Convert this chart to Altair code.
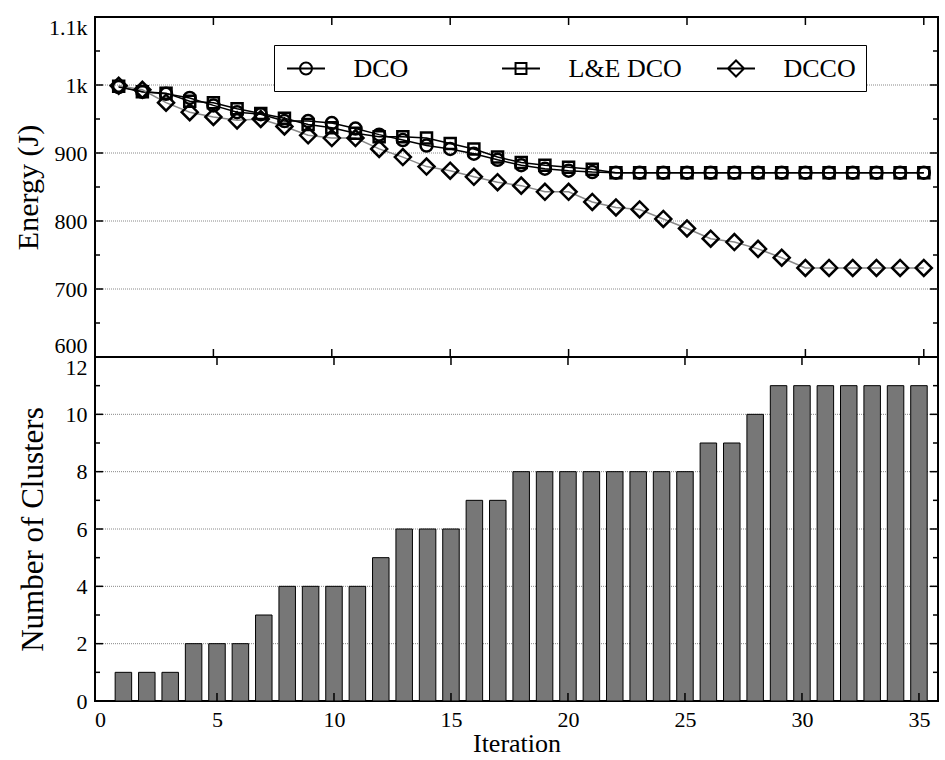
import altair as alt
import pandas as pd

# ---------------- data ----------------
iterations = list(range(1, 36))
series_names = ["DCO", "L&E DCO", "DCCO"]

dco = [997, 990, 987, 981, 970, 960, 957, 947, 947, 944, 936, 927, 919, 911, 906,
       899, 890, 882, 877, 874, 872, 871, 871, 871, 871, 871, 871, 871, 871, 871,
       871, 871, 871, 871, 871]
le_dco = [998, 990, 988, 976, 974, 965, 958, 951, 942, 937, 929, 924, 924, 922, 914,
          906, 894, 886, 882, 879, 876, 871, 871, 871, 871, 871, 871, 871, 871, 871,
          871, 871, 871, 871, 871]
dcco = [999, 993, 974, 960, 953, 948, 950, 939, 926, 922, 922, 906, 894, 880, 874,
        865, 857, 852, 843, 843, 828, 820, 817, 803, 789, 774, 769, 759, 746, 731,
        731, 731, 731, 731, 731]

clusters = [1, 1, 1, 2, 2, 2, 3, 4, 4, 4, 4, 5, 6, 6, 6, 7, 7, 8, 8, 8, 8, 8, 8, 8,
            8, 9, 9, 10, 11, 11, 11, 11, 11, 11, 11]

x_ticks = [0, 5, 10, 15, 20, 25, 30, 35]
x_inner_ticks = [5, 10, 15, 20, 25, 30, 35]
energy_major = [600, 700, 800, 900, 1000, 1100]
energy_grid = [700, 800, 900, 1000]
energy_minor = [650, 750, 850, 950, 1050]
cluster_major = [0, 2, 4, 6, 8, 10, 12]
cluster_grid = [2, 4, 6, 8, 10]
cluster_minor = [1, 3, 5, 7, 9, 11]

# ---------------- tables ----------------
energy_df = pd.DataFrame({
    "iteration": iterations * 3,
    "series": ["DCO"] * 35 + ["L&E DCO"] * 35 + ["DCCO"] * 35,
    "energy": dco + le_dco + dcco,
})
cluster_df = pd.DataFrame({"iteration": iterations, "clusters": clusters})

FONT = "Liberation Serif"
W, H1, H2 = 843, 340, 344

xs = alt.Scale(domain=[0, 35.6], nice=False, zero=False)
ys1 = alt.Scale(domain=[600, 1100], nice=False, zero=False)
ys2 = alt.Scale(domain=[0, 12], nice=False)

energy_axis = alt.Axis(
    values=energy_major, title="Energy (J)", grid=False,
    labelExpr="datum.value >= 1000 ? (datum.value / 1000) + 'k' : '' + datum.value",
    labelFlush=True, titleX=-67, titleBaseline="middle", titleFontSize=30,
)
cluster_axis = alt.Axis(
    values=cluster_major, title="Number of Clusters", grid=False, labelFlush=False,
    labelBaseline={"condition": {"test": "datum.value == 12", "value": "top"}, "value": "middle"},
    titleX=-62, titleBaseline="middle", titleFontSize=31,
)
iter_axis = alt.Axis(values=x_ticks, title="Iteration", grid=False, labelFlush=False,
                     titlePadding=0, titleFontSize=26)

# legend symbols (line through marker)
path_c = "M-1.46,0L1.46,0M-0.46,0A0.46,0.46,0,1,1,0.46,0A0.46,0.46,0,1,1,-0.46,0Z"
path_s = "M-1.46,0L1.46,0M-0.42,-0.42L0.42,-0.42L0.42,0.42L-0.42,0.42Z"
path_d = "M-1.46,0L1.46,0M-0.62,0L0,-0.62L0.62,0L0,0.62Z"

NBSP = "\u00a0" * 8


def vals(v):
    return pd.DataFrame({"v": v})


def xrules(values, y0, y1, xaxis):
    return alt.Chart(vals(values)).mark_rule(color="black", strokeWidth=1.5).encode(
        x=alt.X("v:Q", scale=xs, axis=xaxis), y=alt.value(y0), y2=alt.value(y1))


def yrules(values, scale, yaxis, x0, x1):
    return alt.Chart(vals(values)).mark_rule(color="black", strokeWidth=1.5).encode(
        y=alt.Y("v:Q", scale=scale, axis=yaxis), x=alt.value(x0), x2=alt.value(x1))


def gridrules(values, scale, yaxis):
    return alt.Chart(vals(values)).mark_rule(color="#888888", strokeWidth=1, strokeDash=[1, 1]).encode(
        y=alt.Y("v:Q", scale=scale, axis=yaxis))


# ---------------- top panel ----------------
X1 = alt.X("iteration:Q", scale=xs, axis=None)
Y1 = alt.Y("energy:Q", scale=ys1, axis=energy_axis)

lines = alt.Chart(energy_df).mark_line().encode(
    x=X1, y=Y1,
    color=alt.Color("series:N", scale=alt.Scale(domain=series_names, range=["black", "black", "#888888"]), legend=None),
    strokeWidth=alt.StrokeWidth("series:N", scale=alt.Scale(domain=series_names, range=[1.5, 1.5, 1.3]), legend=None),
)

marker_shapes = {"DCO": ("circle", 144), "L&E DCO": ("square", 121), "DCCO": ("diamond", 256)}
point_layers = []
for name in series_names:
    shp, sz = marker_shapes[name]
    point_layers.append(
        alt.Chart(energy_df).transform_filter(alt.datum.series == name).mark_point(
            shape=shp, size=sz, filled=False, stroke="black", strokeWidth=2.5, opacity=1
        ).encode(x=X1, y=Y1)
    )

legend_layer = alt.Chart(energy_df).transform_filter("false").mark_point(filled=False).encode(
    x=X1, y=Y1,
    shape=alt.Shape(
        "series:N",
        sort=series_names,
        scale=alt.Scale(domain=series_names, range=[path_c, path_s, path_d]),
        legend=alt.Legend(
            title=None, orient="none", legendX=179, legendY=28,
            direction="horizontal", columns=3, gridAlign="all",
            padding=9.5, strokeColor="black", fillColor="white", cornerRadius=0,
            symbolSize=676, symbolStrokeWidth=2, symbolStrokeColor="black",
            symbolFillColor="transparent", symbolOpacity=1, symbolOffset=8.5,
            labelOffset=33.5, columnPadding=30, labelFont=FONT, labelFontSize=26,
            labelColor="black", labelLimit=400,
            labelExpr="datum.label == 'DCCO' ? 'DCCO" + NBSP + "' : datum.label",
        ),
    ),
)

top = alt.layer(
    gridrules(energy_grid, ys1, energy_axis),
    lines, *point_layers, legend_layer,
    xrules(x_inner_ticks, 0, 8, None), xrules(x_inner_ticks, H1 - 8, H1, None),
    yrules(energy_major, ys1, energy_axis, 0, 8), yrules(energy_minor, ys1, energy_axis, 0, 5),
    yrules(energy_major, ys1, energy_axis, W - 8, W), yrules(energy_minor, ys1, energy_axis, W - 5, W),
).resolve_scale(shape="independent").resolve_legend(shape="independent").properties(width=W, height=H1)

# ---------------- bottom panel ----------------
bars = alt.Chart(cluster_df).mark_bar(size=16.5, color="#777777", stroke="black", strokeWidth=1).encode(
    x=alt.X("iteration:Q", scale=xs, axis=iter_axis),
    y=alt.Y("clusters:Q", scale=ys2, axis=cluster_axis),
)

bottom = alt.layer(
    gridrules(cluster_grid, ys2, cluster_axis),
    bars,
    xrules(x_inner_ticks, 0, 8, iter_axis), xrules(x_inner_ticks, H2 - 8, H2, iter_axis),
    yrules(cluster_major, ys2, cluster_axis, 0, 8), yrules(cluster_minor, ys2, cluster_axis, 0, 5),
    yrules(cluster_major, ys2, cluster_axis, W - 8, W), yrules(cluster_minor, ys2, cluster_axis, W - 5, W),
).properties(width=W, height=H2)

chart = alt.vconcat(top, bottom, spacing=0, bounds="flush").resolve_legend(shape="independent").properties(
    padding={"left": 12, "top": 15, "right": 5, "bottom": 5},
    background="white",
).configure_view(stroke="black", strokeWidth=2).configure_axis(
    labelFont=FONT, labelFontSize=22, labelColor="black", labelPadding=8,
    titleFont=FONT, titleFontSize=27, titleFontWeight="normal", titleColor="black",
    ticks=False, domain=False,
)

chart.save("out.html", embed_options={"renderer": "svg", "actions": False})
